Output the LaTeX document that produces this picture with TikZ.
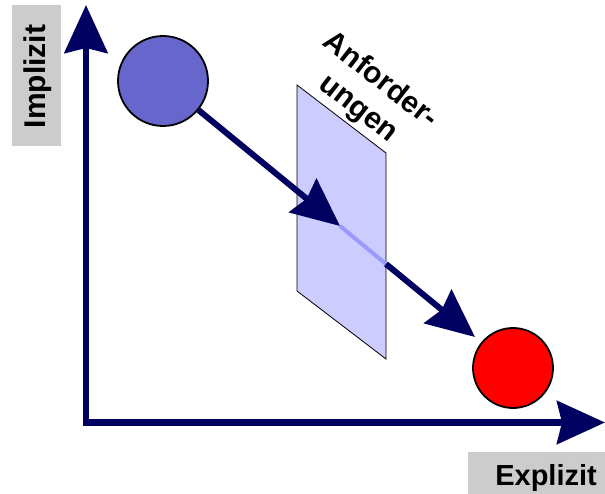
\documentclass[tikz,border=0pt]{standalone}
\usepackage{fontspec}
\setmainfont{Liberation Sans}
\usetikzlibrary{arrows.meta}
\definecolor{navy}{HTML}{000060}
\definecolor{circblue}{HTML}{6666CC}
\definecolor{planefill}{HTML}{CCCCFF}
\definecolor{lightline}{HTML}{9999FF}
\definecolor{labelgray}{HTML}{CCCCCC}
\tikzset{
  bigtip/.tip={Stealth[length=48pt,width=43pt,inset=5pt]},
  axisline/.style={draw=navy, line width=6.5pt, line join=miter},
  flow/.style={draw=navy, line width=6pt},
  passline/.style={draw=lightline, line width=4pt},
  ball/.style={circle, draw=black, line width=1.8pt, inner sep=0pt},
  graybox/.style={fill=labelgray, inner sep=0pt},
  labeltext/.style={inner sep=0pt, font=\fontsize{30}{36}\selectfont\bfseries},
  planestyle/.style={fill=planefill, draw=black, line width=0.8pt}
}
\begin{document}
\begin{tikzpicture}[x=1pt,y=-1pt]
  \useasboundingbox (0,0) rectangle (605,494);
  \fill[white] (0,0) rectangle (605,494);

  % axis labels
  \node[graybox, minimum width=49pt, minimum height=141pt] (ybox) at (36.5,75.5) {};
  \node[labeltext, rotate=90, anchor=base] (ylab) at (45,76.5) {Implizit};
  \node[graybox, minimum width=137pt, minimum height=42pt] (xbox) at (536.5,473) {};
  \node[labeltext, font=\fontsize{29}{36}\selectfont\bfseries, anchor=base east] (xlab) at (597,485.5) {Explizit};

  % axes
  \coordinate (origin) at (86,422.5);
  \coordinate (ytop) at (86,5);
  \coordinate (xend) at (605,422.5);
  \draw[axisline, {bigtip}-{bigtip}] (ytop) -- (origin) -- (xend);

  % plane
  \coordinate (pa) at (297,85);
  \coordinate (pb) at (386,153);
  \coordinate (pc) at (386,359);
  \coordinate (pd) at (297,291);
  \draw[planestyle] (pa) -- (pb) -- (pc) -- (pd) -- cycle;
  \node[labeltext, rotate=-38, align=center] (req) at (369,95) {Anforder-\\ungen};

  % circles
  \node[ball, fill=circblue, minimum size=90pt] (impl) at (163,81) {};
  \node[ball, fill=red, minimum size=80pt] (expl) at (513,368) {};

  % flow arrow
  \coordinate (hit) at (340,226);
  \coordinate (exit) at (386,264);
  \coordinate (tip) at (475,337);
  \draw[flow, -{bigtip}] (impl) -- (hit);
  \draw[passline] (hit) -- (exit);
  \draw[flow, -{bigtip}] (exit) -- (tip);
\end{tikzpicture}
\end{document}
